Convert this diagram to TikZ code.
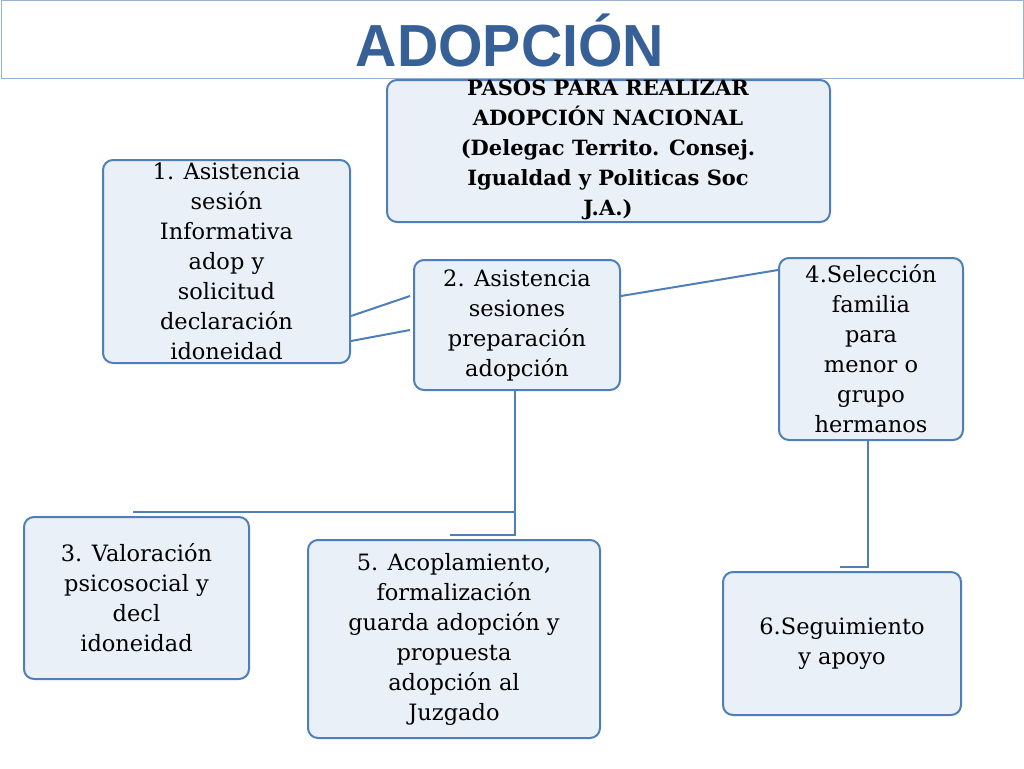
\documentclass[tikz,border=0pt]{standalone}
\usepackage{fontspec}
\setmainfont{DejaVu Serif}
\newfontfamily\titlefont{Liberation Sans}
\begin{document}
\begin{tikzpicture}[x=1pt,y=-1pt,
 bx/.style={draw=boxblue,line width=2pt,fill=boxfill,rounded corners=10pt,inner sep=0pt},
 ln/.style={draw=boxblue,line width=2pt}]
\definecolor{boxblue}{HTML}{4F7FB8}
\definecolor{boxfill}{HTML}{EAF0F8}
\definecolor{titleblue}{HTML}{366096}
\useasboundingbox (0,0) rectangle (1024,768);
\draw[draw=boxblue!60,line width=1pt] (1,1) rectangle (1023,78);
\node (title) at (510,40) {\scalebox{1.3}[1.35]{\titlefont\bfseries\fontsize{44}{44}\selectfont\color{titleblue}ADOPCIÓN}};
\def\bnode#1#2#3#4#5#6{\path[bx] (#2,#3) rectangle (#4,#5); \node[align=center,font=\fontsize{22.5}{30}\selectfont] (#1) at ({(#2+#4)/2},{(#3+#5)/2}) {#6};}
\path[bx] (387,80) rectangle (830,222);
\node[align=center,font=\bfseries\fontsize{21}{30}\selectfont] (h) at (608,150) {PASOS PARA REALIZAR\\ADOPCIÓN NACIONAL\\(Delegac Territo. Consej.\\Igualdad y Politicas Soc\\J.A.)};
\bnode{b1}{103}{160}{350}{363}{1. Asistencia\\sesión\\Informativa\\adop y\\solicitud\\declaración\\idoneidad}
\bnode{b2}{414}{260}{620}{390}{2. Asistencia\\sesiones\\preparación\\adopción}
\bnode{b4}{779}{258}{963}{440}{4.Selección\\familia\\para\\menor o\\grupo\\hermanos}
\bnode{b3}{24}{517}{249}{679}{3. Valoración\\psicosocial y\\decl\\idoneidad}
\bnode{b5}{308}{540}{600}{738}{5. Acoplamiento,\\formalización\\guarda adopción y\\propuesta\\adopción al\\Juzgado}
\bnode{b6}{723}{572}{961}{715}{6.Seguimiento\\y apoyo}
\coordinate (a1) at (351,316); \coordinate (a2) at (410,296);
\coordinate (c1) at (351,341); \coordinate (c2) at (410,330);
\coordinate (d1) at (621,296); \coordinate (d2) at (778,270);
\draw[ln] (a1) -- (a2); \draw[ln] (c1) -- (c2); \draw[ln] (d1) -- (d2);
\coordinate (v1) at (515,391); \coordinate (v2) at (515,535);
\coordinate (h1) at (133,512); \coordinate (h2) at (515,512);
\coordinate (s1) at (450,535);
\draw[ln] (v1) -- (v2) -- (s1); \draw[ln] (h1) -- (h2);
\coordinate (w1) at (868,441); \coordinate (w2) at (868,567); \coordinate (w3) at (840,567);
\draw[ln] (w1) -- (w2) -- (w3);
\end{tikzpicture}
\end{document}
